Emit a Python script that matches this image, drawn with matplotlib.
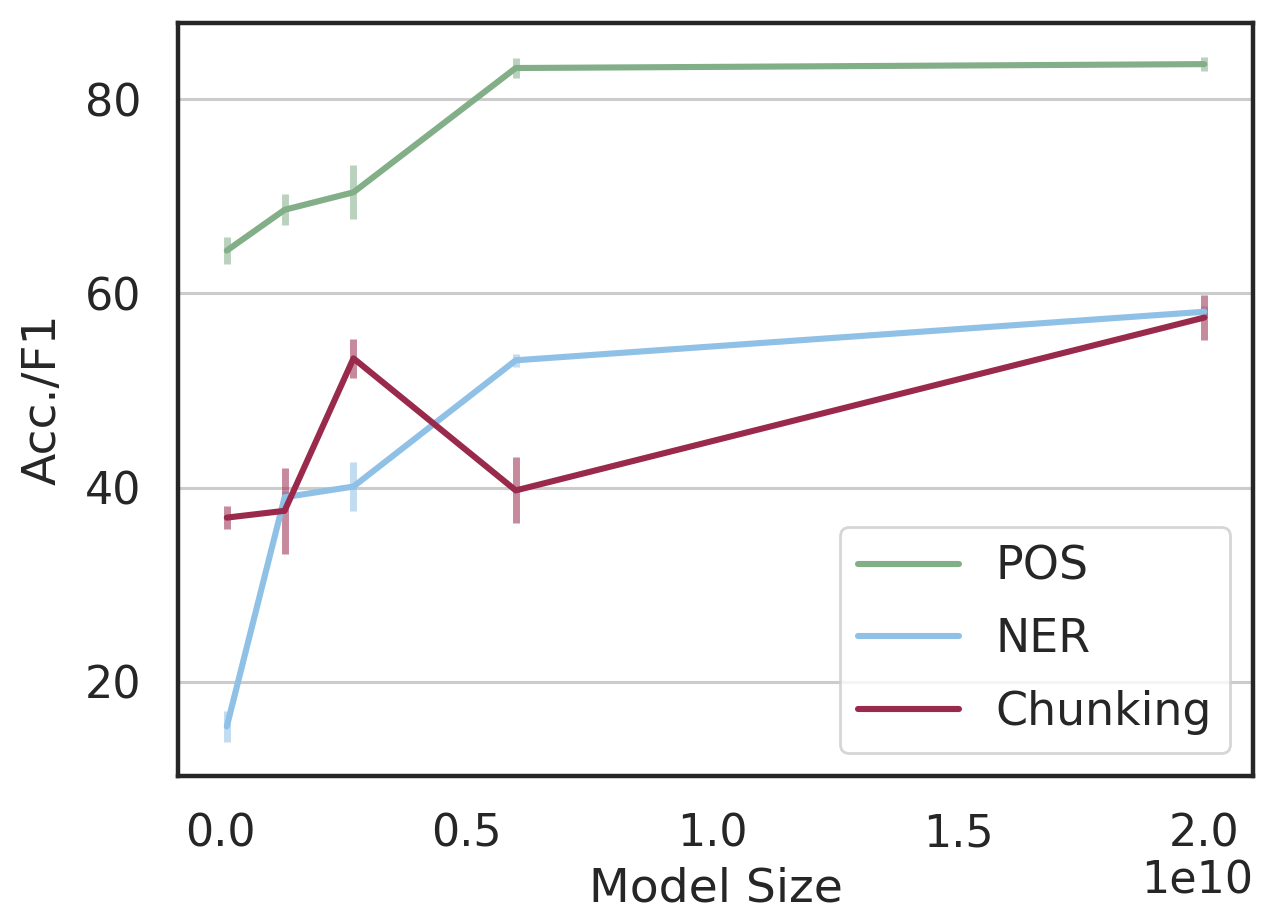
import matplotlib
matplotlib.use("Agg")
import matplotlib.pyplot as plt
import numpy as np

# Data
model_size = [1.25e8, 1.3e9, 2.7e9, 6.0e9, 2.0e10]
tasks = ["POS", "NER", "Chunking"]
pos_mean = [64.4, 68.6, 70.4, 83.2, 83.6]
pos_err = [1.4, 1.6, 2.8, 1.0, 0.7]
ner_mean = [15.4, 39.0, 40.1, 53.1, 58.1]
ner_err = [1.6, 0.6, 2.5, 0.7, 0.6]
chunk_mean = [36.9, 37.6, 53.3, 39.7, 57.5]
chunk_err = [1.2, 4.4, 2.0, 3.4, 2.3]
colors = ["#82ae88", "#8fc0e6", "#992a4c"]

means = [pos_mean, ner_mean, chunk_mean]
errs = [pos_err, ner_err, chunk_err]

plt.rcParams['font.family'] = ['DejaVu Sans']
fig = plt.figure(figsize=(12.62, 9.24), dpi=100)
ax = fig.add_axes([0.141, 0.160, 0.852, 0.815])

for name, m, e, c in zip(tasks, means, errs, colors):
    ax.errorbar(model_size, m, yerr=e, fmt='none', ecolor=c, elinewidth=5,
                alpha=0.55, capsize=0, zorder=2)
    ax.plot(model_size, m, color=c, lw=4.4, label=name, zorder=3,
            solid_capstyle='round')

ax.set_yticks([20, 40, 60, 80])
ax.yaxis.grid(True, color="#cccccc", lw=2.2)
ax.xaxis.grid(False)
ax.set_axisbelow(True)
for s in ax.spines.values():
    s.set_color("#262626")
    s.set_linewidth(3.2)

ax.tick_params(axis='both', length=0, labelsize=32, colors="#262626", pad=26)
ax.xaxis.get_offset_text().set_fontsize(32)
ax.xaxis.get_offset_text().set_color("#262626")
ax.set_xlabel("Model Size", fontsize=34, color="#262626", labelpad=8)
ax.set_ylabel("Acc./F1", fontsize=34, color="#262626", labelpad=14)

leg = ax.legend(loc="lower right", fontsize=33, frameon=True, fancybox=True,
                handlelength=2.2, labelspacing=0.6)
leg.get_frame().set_edgecolor("#cccccc")
leg.get_frame().set_linewidth(2)
for t in leg.get_texts():
    t.set_color("#262626")

fig.savefig("out.png", dpi=100)
